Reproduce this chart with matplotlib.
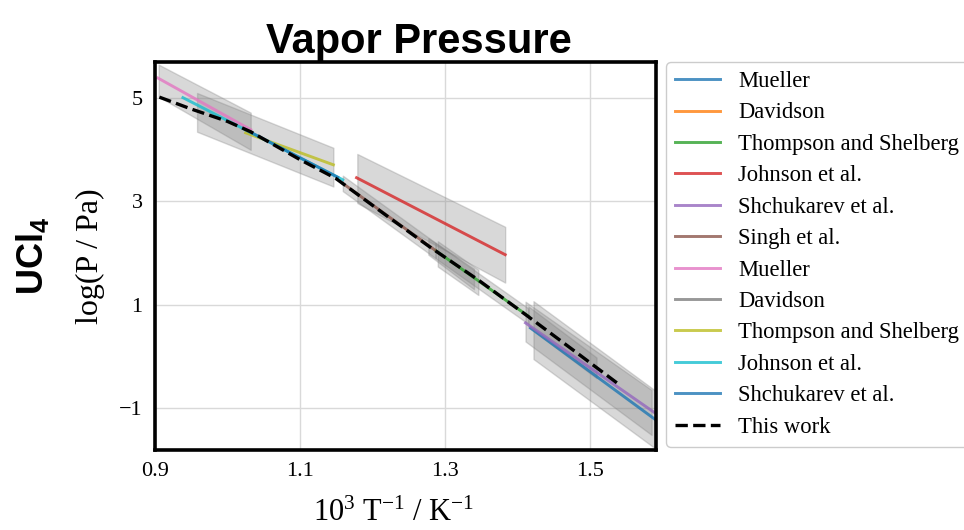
import matplotlib
matplotlib.use("Agg")
import matplotlib.pyplot as plt
import numpy as np

plt.rcParams['font.family'] = ['Liberation Serif', 'DejaVu Serif']
plt.rcParams['mathtext.fontset'] = 'custom'
plt.rcParams['mathtext.rm'] = 'Liberation Serif'
plt.rcParams['mathtext.it'] = 'Liberation Serif:italic'
plt.rcParams['mathtext.bf'] = 'Liberation Sans:bold'

# literature sources (two series per source, colours follow the default cycle)
names = ["Mueller", "Davidson", "Thompson and Shelberg", "Johnson et al.",
         "Shchukarev et al.", "Singh et al.",
         "Mueller", "Davidson", "Thompson and Shelberg", "Johnson et al.",
         "Shchukarev et al."]

# 1000/T endpoints and log(P/Pa) endpoints of each fitted line
line_x = [[1.418, 1.62], [], [1.287, 1.415], [1.178, 1.383], [1.411, 1.62],
          [1.159, 1.287], [0.904, 1.032], [], [1.025, 1.146], [0.9385, 1.159],
          [1.025, 1.152]]
line_y = [[0.55, -1.53], [], [2.05, 0.78], [3.46, 1.97], [0.65, -1.39],
          [3.35, 2.05], [5.39, 4.39], [], [4.33, 3.71], [5.01, 3.42],
          [4.39, 3.47]]

# uncertainty bands
band_x = [[0.905, 1.032], [0.958, 1.146], [1.179, 1.383], [1.277, 1.340],
          [1.290, 1.346], [1.159, 1.287], [1.287, 1.415], [1.411, 1.585],
          [1.422, 1.62], [1.415, 1.509]]
band_lo = [[5.03, 4.00], [4.35, 3.29], [2.97, 1.43], [1.97, 1.30], [1.74, 1.19],
           [3.20, 1.90], [1.90, 0.63], [0.29, -1.52], [-0.05, -2.09], [0.57, -0.42]]
band_hi = [[5.65, 4.72], [5.10, 4.04], [3.92, 2.51], [2.29, 1.70], [2.23, 1.68],
           [3.50, 2.20], [2.20, 0.93], [1.06, -0.65], [1.07, -0.97], [0.97, -0.02]]

# this work
work_x = [0.906, 0.95, 1.0, 1.032, 1.1, 1.149, 1.218, 1.278, 1.346, 1.415, 1.48, 1.537]
work_y = [5.02, 4.79, 4.55, 4.35, 3.81, 3.45, 2.74, 2.13, 1.48, 0.77, 0.09, -0.51]

fig = plt.figure(figsize=(9.64, 5.30), dpi=100)
ax = fig.add_axes([0.1608, 0.151, 0.5197, 0.732])

for bx, lo, hi in zip(band_x, band_lo, band_hi):
    ax.fill_between(bx, lo, hi, color='gray', alpha=0.3, zorder=1)

for n, lx, ly in zip(names, line_x, line_y):
    ax.plot(lx, ly, lw=2.1, alpha=0.8, label=n, zorder=2)

ax.plot(work_x, work_y, 'k--', lw=2.4, label='This work', zorder=3)

ax.set_xlim(0.9, 1.591)
ax.set_ylim(-1.81, 5.7)
ax.set_xticks([0.9, 1.1, 1.3, 1.5])
ax.set_yticks([-1, 1, 3, 5])
ax.grid(True, color='#d9d9d9', lw=1.0)
ax.set_axisbelow(True)
ax.tick_params(length=0, labelsize=16, pad=9)
for s in ax.spines.values():
    s.set_linewidth(2.6)
    s.set_color('black')

ax.set_xlabel(r'$10^3\ \mathrm{T}^{-1}\ /\ \mathrm{K}^{-1}$', fontsize=22)
ax.xaxis.set_label_coords(0.475, -0.125)
ax.xaxis.label.set_va('top')
ax.set_ylabel('log(P / Pa)', fontsize=23)
ax.yaxis.set_label_coords(-0.10, 0.5)
ax.text(-0.245, 0.5, r'$\mathbf{UCl_4}$', fontsize=26, rotation=90,
        transform=ax.transAxes, ha='center', va='center')
ax.set_title('Vapor Pressure', fontsize=30, fontweight='bold',
             family='Liberation Sans', x=0.526, pad=6)

leg = ax.legend(loc='upper left', bbox_to_anchor=(1.02, 1.0), borderaxespad=0,
                fontsize=16.3, labelspacing=0.46, frameon=True, fancybox=True,
                edgecolor='#cccccc', framealpha=1)

fig.savefig('out.png', dpi=100)
